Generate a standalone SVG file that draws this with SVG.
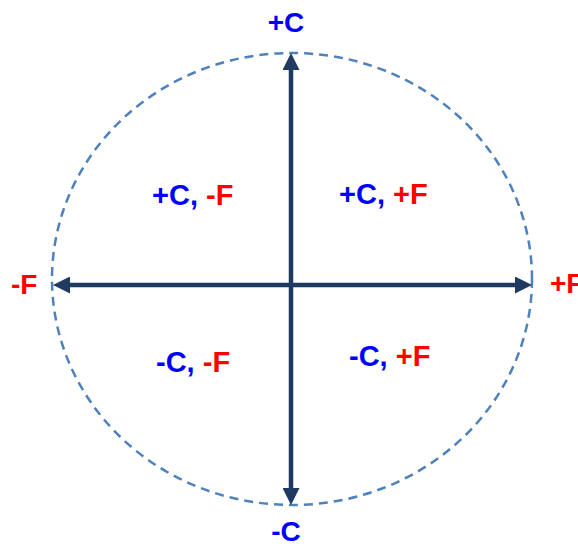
<svg xmlns="http://www.w3.org/2000/svg" width="578" height="546" viewBox="0 0 578 546">
<style>
.lbl{font-family:"Liberation Sans",Arial,sans-serif;font-weight:bold;font-size:28px}
.q{font-size:29px}
.b{fill:#0000FF}
.r{fill:#FF0000}
.axis{stroke:#1F3A60;stroke-width:4.5;fill:none}
.ring{fill:none;stroke:#4F81BD;stroke-width:2.5;stroke-dasharray:9 6}
</style>
<defs>
<marker id="ah" markerUnits="userSpaceOnUse" markerWidth="17" markerHeight="17" refX="9" refY="8.5" orient="auto-start-reverse">
<path d="M0,0 L17,8.5 L0,17 z" fill="#1F3A60"/>
</marker>
</defs>
<g id="circle"><ellipse class="ring" cx="292" cy="279" rx="240" ry="226"/></g>
<g id="connectors">
<line class="axis" x1="291" y1="497" x2="291" y2="61" marker-start="url(#ah)" marker-end="url(#ah)"/>
<line class="axis" x1="61" y1="285" x2="524" y2="285" marker-start="url(#ah)" marker-end="url(#ah)"/>
</g>
<g id="top"><text class="lbl b" x="286" y="32" text-anchor="middle">+C</text></g>
<g id="bottom"><text class="lbl b" x="286" y="541" text-anchor="middle">-C</text></g>
<g id="left"><text class="lbl r" x="11" y="294">-F</text></g>
<g id="right"><text class="lbl r" x="550" y="293">+F</text></g>
<g id="q2"><text class="lbl q" x="152" y="205"><tspan class="b">+C, </tspan><tspan class="r">-F</tspan></text></g>
<g id="q1"><text class="lbl q" x="339" y="204"><tspan class="b">+C, </tspan><tspan class="r">+F</tspan></text></g>
<g id="q3"><text class="lbl q" x="156" y="372"><tspan class="b">-C, </tspan><tspan class="r">-F</tspan></text></g>
<g id="q4"><text class="lbl q" x="349" y="366"><tspan class="b">-C, </tspan><tspan class="r">+F</tspan></text></g>
</svg>
